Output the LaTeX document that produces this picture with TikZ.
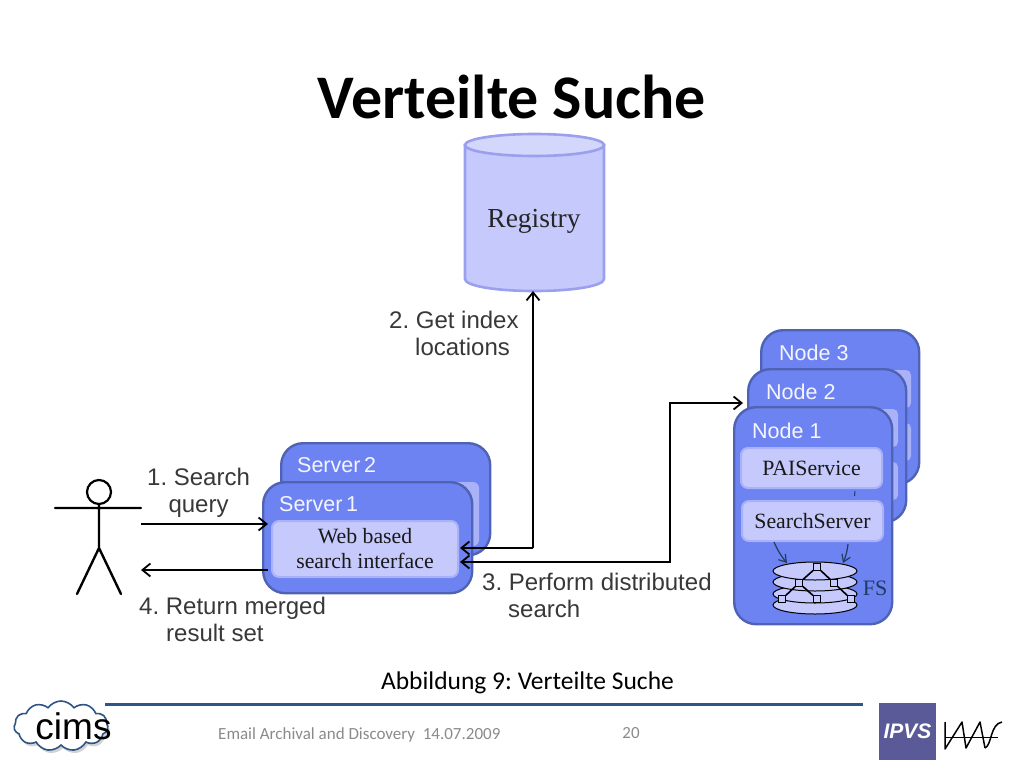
\documentclass[tikz,border=0pt]{standalone}
\usepackage{fontspec}
\setmainfont{Liberation Sans}
\newfontfamily\carlito{Carlito}
\newfontfamily\timesfam{Liberation Serif}
\usetikzlibrary{shapes,shapes.geometric,shapes.symbols,arrows,arrows.meta,positioning,shadows}

\definecolor{stackblue}{HTML}{6E83F2}
\definecolor{stackline}{HTML}{4F63B5}
\definecolor{panelblue}{HTML}{C6C9FB}
\definecolor{panelline}{HTML}{A9B1F8}
\definecolor{regline}{HTML}{9A9FEE}
\definecolor{navyline}{HTML}{2F5587}
\definecolor{footgray}{HTML}{8A8A8A}
\definecolor{ipvsblue}{HTML}{5A5A98}
\frenchspacing

\tikzset{
	stackbox/.style={draw=stackline,fill=stackblue,line width=2.4pt,rounded corners=22pt,anchor=north west},
	panelbox/.style={draw=panelline,fill=panelblue,line width=2pt,rounded corners=7pt,anchor=north west},
	stacklabel/.style={anchor=west,text=white!92!stackblue,font=\fontsize{21.5}{21.5}\selectfont,inner sep=0pt},
	paneltext/.style={font=\timesfam\fontsize{21.8}{25}\selectfont,align=center,text=black!90,inner sep=0pt},
	steptext/.style={font=\fontsize{24}{27}\selectfont,text=black!78,align=left,inner sep=0pt,anchor=west},
	flowline/.style={->,>={Straight Barb[length=8pt,width=13pt]},line width=1.8pt,black},
	thinarrow/.style={->,>={Straight Barb[length=7pt,width=9pt]},line width=1.2pt,navyline!70!black},
	disk/.style={draw=black,fill=panelblue,line width=1pt,ellipse,minimum width=84pt,minimum height=18pt,inner sep=0pt},
	treebox/.style={draw=black,fill=panelblue,line width=.9pt,minimum size=7pt,inner sep=0pt},
	figline/.style={line width=2.4pt,black,line cap=round}
}

\begin{document}
\begin{tikzpicture}[x=1pt,y=-1pt]
	\useasboundingbox (0,0) rectangle (1024,768);

	\node[font=\carlito\bfseries\fontsize{62}{62}\selectfont] (Title) at (512,97) {Verteilte Suche};

	% registry
	\draw[draw=regline,fill=panelblue,line width=2.6pt] (465,145) -- (465,279)
		.. controls (465,286) and (496,291) .. (534.5,291)
		.. controls (573,291) and (604,286) .. (604,279) -- (604,145) -- cycle;
	\node[ellipse,draw=regline,fill=panelblue!75!white,line width=2.6pt,minimum width=139pt,minimum height=22pt,inner sep=0pt] (RegTop) at (534.5,145) {};
	\coordinate (RegBot) at (533,291);
	\node[font=\timesfam\fontsize{27.5}{27.5}\selectfont,text=black!85] (RegText) at (534,221) {Registry};

	% node stack, back to front
	\foreach \x/\y/\h/\t [count=\n] in {760/329/154/Node 3,747/368/153/Node 2}
	{
		\node[stackbox,minimum width=158pt,minimum height=\h pt] (S\n) at (\x,\y) {};
		\node[panelbox,draw=none,fill=panelline,minimum width=144pt,minimum height=38pt,rounded corners=5pt] (SP\n) at (\x+6,\y+40) {};
		\node[panelbox,draw=none,fill=panelline,minimum width=144pt,minimum height=38pt,rounded corners=5pt] (SQ\n) at (\x+6,\y+93) {};
		\node[stacklabel] (SL\n) at (\x+19,\y+24) {\t};
	}
	\node[stackbox,minimum width=158pt,minimum height=217pt] (N1) at (733,406) {};
	\node[stacklabel] (N1L) at (752,431) {Node 1};
	\node[panelbox,minimum width=141pt,minimum height=40pt] (Pai) at (740,447) {};
	\node[paneltext] (PaiText) at (Pai.center) {PAIService};
	\node[panelbox,minimum width=141pt,minimum height=40pt] (Srch) at (741,500) {};
	\node[paneltext] (SrchText) at (Srch.center) {SearchServer};

	% disks
	\foreach \y [count=\n] in {605,594,582,571}
		\node[disk] (D\n) at (815,\y) {};
	\foreach \x/\y/\k in {817/567/a,799/583/b,834/583/c,782/599/d,817/599/e,851/599/f}
		\node[treebox] (T\k) at (\x,\y) {};
	\draw[line width=1.6pt] (Ta) -- (Tb) (Tb) -- (Td) (Tb) -- (Te) (Ta) -- (Tc) (Tc) -- (Tf);
	\coordinate (SrchL) at (774,542);
	\coordinate (SrchR) at (848,544);
	\coordinate (DiskL) at (787,563);
	\coordinate (DiskR) at (843,563);
	\draw[thinarrow] (SrchL) to[bend right=8] (DiskL);
	\draw[thinarrow] (SrchR) to[bend left=8] (DiskR);
	\node[font=\timesfam\fontsize{22}{22}\selectfont,text=navyline!70!black,inner sep=0pt] (FS) at (875,588) {FS};
	\coordinate (TickA) at (855,491);
	\coordinate (TickB) at (854.5,496);
	\draw[line width=1pt,navyline!70!black] (TickA) -- (TickB);

	% servers
	\node[stackbox,minimum width=209pt,minimum height=112pt] (S3) at (280,442) {};
	\node[panelbox,draw=none,fill=panelline,minimum width=190pt,minimum height=64pt,rounded corners=6pt] (S3P) at (288,481) {};
	\node[stacklabel] (S3L) at (297,465) {Server\,2};
	\node[stackbox,minimum width=209pt,minimum height=111pt] (S4) at (262,481) {};
	\node[stacklabel] (S4L) at (279,504) {Server\,1};
	\node[panelbox,minimum width=186pt,minimum height=56pt] (Web) at (271,520) {};
	\node[paneltext] (WebText) at (Web.center) {Web based\\search interface};

	% person
	\node[draw,circle,line width=2.2pt,minimum size=24pt,inner sep=0pt] (Head) at (99,492) {};
	\coordinate (Hip) at (99,548);
	\coordinate (ArmL) at (55,508);
	\coordinate (ArmR) at (141,508);
	\coordinate (LegL) at (77,594);
	\coordinate (LegR) at (121,594);
	\draw[figline] (Head) -- (Hip) -- (LegL) (Hip) -- (LegR) (ArmL) -- (ArmR);

	% connectors
	\coordinate (UserOut) at (141,524);
	\coordinate (WebIn) at (268,524);
	\coordinate (WebOut) at (268,570);
	\coordinate (UserIn) at (141,570);
	\coordinate (WebR1) at (460,548);
	\coordinate (WebR2) at (460,562);
	\coordinate (Junc) at (533,548);
	\coordinate (Elbow1) at (670,562);
	\coordinate (Elbow2) at (670,403);
	\coordinate (NodeIn) at (743,403);
	\draw[flowline] (UserOut) -- (WebIn);
	\draw[flowline] (WebOut) -- (UserIn);
	\draw[flowline] (Junc) -- (RegBot);
	\draw[flowline] (Junc) -- (WebR1);
	\draw[flowline,<->] (WebR2) -- (Elbow1) -- (Elbow2) -- (NodeIn);

	% step labels
	\node[steptext,align=center] (Step1) at (147,492.5) {1. Search\\query};
	\node[steptext] (Step2) at (389,333) {2. Get index\\\hspace*{26pt}locations};
	\node[steptext] (Step3) at (482,595) {3. Perform distributed\\\hspace*{26pt}search};
	\node[steptext] (Step4) at (139,619) {4. Return merged\\\hspace*{27pt}result set};

	\node[font=\carlito\fontsize{25.5}{25.5}\selectfont] (Caption) at (527.5,683) {Abbildung 9: Verteilte Suche};

	% footer
	\node[cloud,cloud puffs=11,cloud puff arc=110,aspect=2,draw=navyline,line width=1.6pt,fill=white,
		minimum width=94pt,minimum height=50pt,inner sep=0pt,
		drop shadow={shadow xshift=2pt,shadow yshift=-3pt,opacity=.35}] (Cloud) at (61,726) {};
	\node[font=\fontsize{37}{37}\selectfont,inner sep=0pt] (Cims) at (73.5,726) {cims};
	\coordinate (RuleA) at (105,704);
	\coordinate (RuleB) at (863,704);
	\draw[navyline,line width=3pt] (RuleA) -- (RuleB);
	\node[font=\carlito\fontsize{17}{17}\selectfont,text=footgray,anchor=west,inner sep=0pt] (Foot) at (218,734.5) {Email Archival and Discovery\ \ 14.07.2009};
	\node[font=\carlito\fontsize{17}{17}\selectfont,text=footgray,inner sep=0pt] (Page) at (631,733) {20};
	\node[fill=ipvsblue,minimum size=57pt,inner sep=0pt,anchor=north west] (Ipvs) at (879,703) {};
	\node[font=\bfseries\itshape\fontsize{21}{21}\selectfont,text=white,inner sep=0pt] (IpvsText) at (907.5,731.5) {IPVS};
	\draw[line width=1.5pt,black,line join=round] (945,722) -- (945,749) -- (962,722) -- (966,748) -- (980,722) -- (985,748);
	\draw[line width=1.5pt,black] (985,748) .. controls (992,745) and (990,724) .. (1002,722);
	\draw[line width=.8pt,black] (945,737) -- (998,737);
\end{tikzpicture}
\end{document}
